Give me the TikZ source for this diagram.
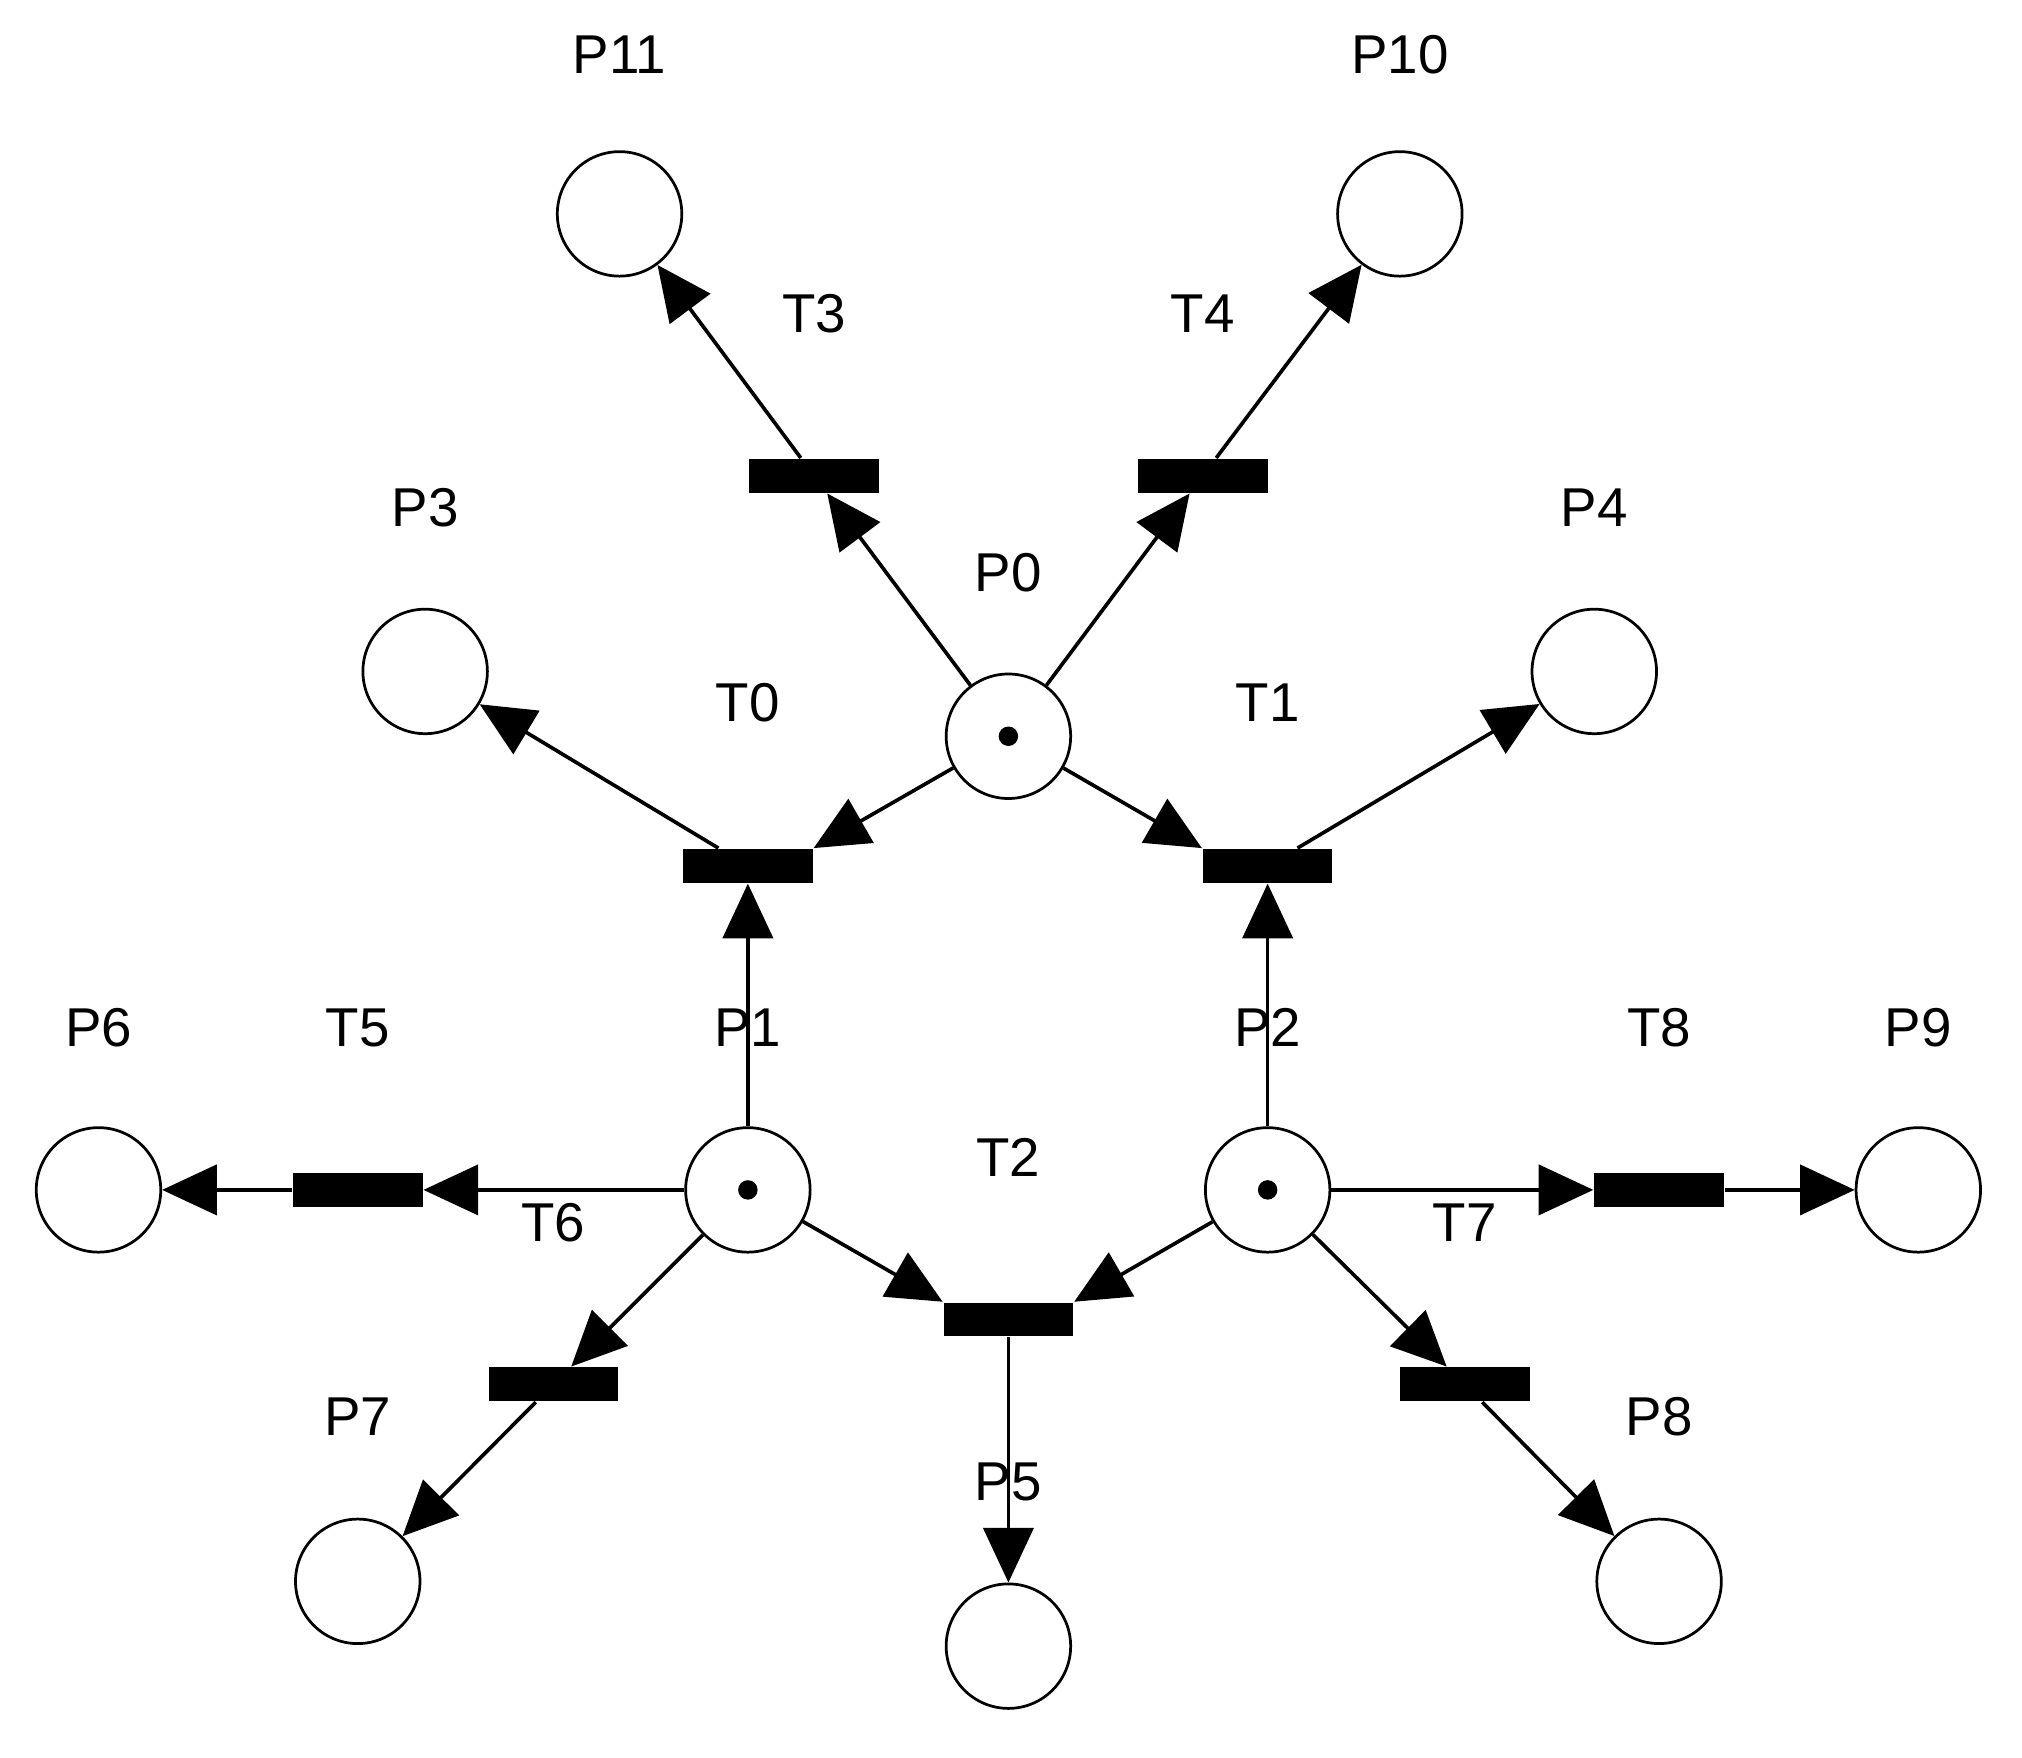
\documentclass[tikz,border=0pt]{standalone}
\usepackage{fontspec}
\setmainfont{Liberation Sans}
\usetikzlibrary{arrows.meta}
\begin{document}
\begin{tikzpicture}[x=0.01cm,y=-0.01cm,
 pl/.style={circle,draw,line width=0.6pt,minimum size=0.96cm,inner sep=0pt},
 tr/.style={rectangle,fill=black,minimum width=1cm,minimum height=0.26cm,inner sep=0pt},
 lb/.style={font=\fontsize{12}{14}\selectfont},
 arc/.style={line width=0.8pt,-{Triangle[length=12pt,width=11pt]}},
 tok/.style={circle,fill=black,minimum size=0.15cm,inner sep=0pt}]
\useasboundingbox (0,0) rectangle (1560,1356);
\node[pl] (P0) at (778,568) {}; \node[tok] at (P0) {};
\node[pl] (P1) at (577,918) {}; \node[tok] at (P1) {};
\node[pl] (P2) at (978,918) {}; \node[tok] at (P2) {};
\node[pl] (P3) at (328,518) {};
\node[pl] (P4) at (1230,518) {};
\node[pl] (P5) at (778,1270) {};
\node[pl] (P6) at (76,918) {};
\node[pl] (P7) at (276,1220) {};
\node[pl] (P8) at (1280,1220) {};
\node[pl] (P9) at (1480,918) {};
\node[pl] (P10) at (1080,165) {};
\node[pl] (P11) at (478,165) {};
\node[tr] (T0) at (577,668) {};
\node[tr] (T1) at (978,668) {};
\node[tr] (T2) at (778,1018) {};
\node[tr] (T3) at (628,367) {};
\node[tr] (T4) at (928,367) {};
\node[tr] (T5) at (276,918) {};
\node[tr] (T6) at (427,1068) {};
\node[tr] (T7) at (1130,1068) {};
\node[tr] (T8) at (1280,918) {};
\foreach \n/\x/\y in {P11/478/42,P10/1080/42,T3/628/242,T4/928/242,P3/328/392,P4/1230/392,P0/778/442,T0/577/542,T1/978/542,P6/76/793,T5/276/793,P1/577/793,P2/978/793,T8/1280/793,P9/1480/793,T2/778/893,T6/427/943,T7/1130/943,P7/276/1093,P8/1280/1093,P5/778/1143}
  \node[lb] (L\n) at (\x,\y) {\n};
\draw[arc] (P0) -- (T3); \draw[arc] (T3) -- (P11);
\draw[arc] (P0) -- (T4); \draw[arc] (T4) -- (P10);
\draw[arc] (P0) -- (T0.north east); \draw[arc] (T0) -- (P3);
\draw[arc] (P0) -- (T1.north west); \draw[arc] (T1) -- (P4);
\draw[arc] (P1) -- (T0); \draw[arc] (P2) -- (T1);
\draw[arc] (P1) -- (T5); \draw[arc] (T5) -- (P6);
\draw[arc] (P1) -- (T6); \draw[arc] (T6) -- (P7);
\draw[arc] (P1) -- (T2.north west); \draw[arc] (P2) -- (T2.north east);
\draw[arc] (T2) -- (P5);
\draw[arc] (P2) -- (T8); \draw[arc] (T8) -- (P9);
\draw[arc] (P2) -- (T7); \draw[arc] (T7) -- (P8);
\end{tikzpicture}
\end{document}
